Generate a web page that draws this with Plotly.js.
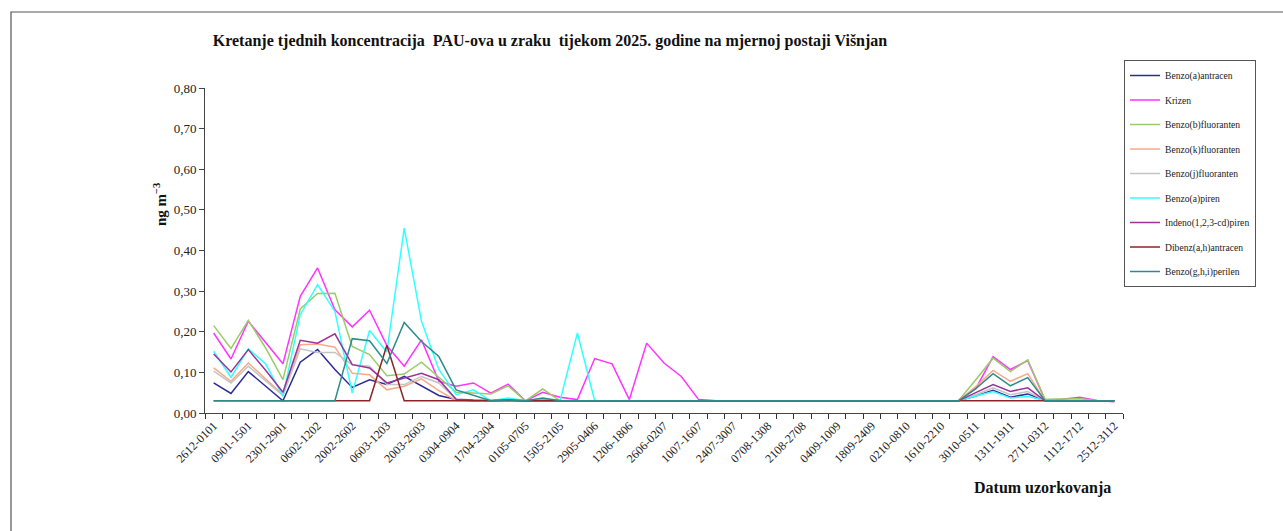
<!DOCTYPE html>
<html>
<head>
<meta charset="utf-8">
<script src="https://cdn.plot.ly/plotly-3.0.1.min.js"></script>
<style>
html,body{margin:0;padding:0;background:#fff;}
#chart{width:1283px;height:531px;}
</style>
</head>
<body>
<div id="chart"></div>
<script>
const weeks = ["2612-0101","0201-0801","0901-1501","1601-2201","2301-2901","3001-0502","0602-1202","1302-1902","2002-2602","2702-0503",
"0603-1203","1303-1903","2003-2603","2703-0204","0304-0904","1004-1604","1704-2304","2404-3004","0105-0705","0805-1405",
"1505-2105","2205-2805","2905-0406","0506-1106","1206-1806","1906-2506","2606-0207","0307-0907","1007-1607","1707-2307",
"2407-3007","3107-0608","0708-1308","1408-2008","2108-2708","2808-0309","0409-1009","1109-1709","1809-2409","2509-0110",
"0210-0810","0910-1510","1610-2210","2310-2910","3010-0511","0611-1211","1311-1911","2011-2611","2711-0312","0412-1012",
"1112-1712","1812-2412","2512-3112"];

const seriesNames = ["Benzo(a)antracen","Krizen","Benzo(b)fluoranten","Benzo(k)fluoranten","Benzo(j)fluoranten","Benzo(a)piren","Indeno(1,2,3-cd)piren","Dibenz(a,h)antracen","Benzo(g,h,i)perilen"];

const benzoAAntracen = [0.074,0.048,0.102,0.066,0.030,0.125,0.156,0.107,0.063,0.082,
0.070,0.090,0.067,0.043,0.033,0.030,0.030,0.032,0.030,0.032,
0.030,0.030,0.030,0.030,0.030,0.030,0.030,0.030,0.030,0.030,
0.030,0.030,0.030,0.030,0.030,0.030,0.030,0.030,0.030,0.030,
0.030,0.030,0.030,0.030,0.042,0.056,0.039,0.047,0.030,0.030,
0.030,0.030,0.030];

const krizen = [0.197,0.133,0.226,0.173,0.121,0.287,0.357,0.254,0.212,0.253,
0.166,0.115,0.180,0.078,0.066,0.074,0.049,0.071,0.030,0.051,
0.039,0.033,0.134,0.121,0.033,0.172,0.123,0.090,0.033,0.030,
0.030,0.030,0.030,0.030,0.030,0.030,0.030,0.030,0.030,0.030,
0.030,0.030,0.030,0.030,0.060,0.139,0.107,0.129,0.032,0.034,
0.039,0.031,0.028];

const benzoBFluoranten = [0.215,0.159,0.228,0.160,0.082,0.256,0.294,0.295,0.164,0.144,
0.092,0.096,0.125,0.088,0.051,0.049,0.047,0.067,0.030,0.059,
0.030,0.030,0.030,0.030,0.030,0.030,0.030,0.030,0.030,0.030,
0.030,0.030,0.030,0.030,0.030,0.030,0.030,0.030,0.030,0.030,
0.030,0.030,0.030,0.030,0.082,0.135,0.102,0.131,0.034,0.035,
0.035,0.031,0.030];

const benzoKFluoranten = [0.111,0.078,0.123,0.085,0.045,0.168,0.170,0.162,0.098,0.094,
0.057,0.066,0.084,0.055,0.031,0.030,0.030,0.030,0.030,0.030,
0.030,0.030,0.030,0.030,0.030,0.030,0.030,0.030,0.030,0.030,
0.030,0.030,0.030,0.030,0.030,0.030,0.030,0.030,0.030,0.030,
0.030,0.030,0.030,0.030,0.065,0.105,0.078,0.097,0.030,0.030,
0.030,0.030,0.030];

const benzoJFluoranten = [0.103,0.074,0.115,0.078,0.043,0.158,0.149,0.149,0.119,0.115,
0.070,0.070,0.090,0.074,0.033,0.030,0.030,0.030,0.030,0.030,
0.030,0.030,0.030,0.030,0.030,0.030,0.030,0.030,0.030,0.030,
0.030,0.030,0.030,0.030,0.030,0.030,0.030,0.030,0.030,0.030,
0.030,0.030,0.030,0.030,0.045,0.062,0.045,0.053,0.030,0.030,
0.030,0.030,0.030];

const benzoAPiren = [0.152,0.088,0.158,0.121,0.041,0.242,0.316,0.250,0.049,0.203,
0.150,0.455,0.226,0.107,0.045,0.057,0.030,0.037,0.030,0.034,
0.030,0.197,0.030,0.030,0.030,0.030,0.030,0.030,0.030,0.030,
0.030,0.030,0.030,0.030,0.030,0.030,0.030,0.030,0.030,0.030,
0.030,0.030,0.030,0.030,0.042,0.053,0.037,0.041,0.030,0.030,
0.030,0.030,0.030];

const indenoPiren = [0.145,0.101,0.156,0.105,0.051,0.179,0.172,0.195,0.119,0.111,
0.074,0.086,0.098,0.082,0.034,0.032,0.031,0.032,0.030,0.031,
0.030,0.030,0.030,0.030,0.030,0.030,0.030,0.030,0.030,0.030,
0.030,0.030,0.030,0.030,0.030,0.030,0.030,0.030,0.030,0.030,
0.030,0.030,0.030,0.030,0.050,0.070,0.053,0.062,0.030,0.030,
0.030,0.030,0.030];

const dibenzAntracen = [0.030,0.030,0.030,0.030,0.030,0.030,0.030,0.030,0.030,0.030,
0.167,0.030,0.030,0.030,0.030,0.030,0.030,0.030,0.030,0.030,
0.030,0.030,0.030,0.030,0.030,0.030,0.030,0.030,0.030,0.030,
0.030,0.030,0.030,0.030,0.030,0.030,0.030,0.030,0.030,0.030,
0.030,0.030,0.030,0.030,0.030,0.030,0.030,0.030,0.030,0.030,
0.030,0.030,0.030];

const benzoGhiPerilen = [0.030,0.030,0.030,0.030,0.030,0.030,0.030,0.030,0.183,0.178,
0.122,0.223,0.176,0.139,0.057,0.043,0.030,0.032,0.030,0.037,
0.030,0.030,0.030,0.030,0.030,0.030,0.030,0.030,0.030,0.030,
0.030,0.030,0.030,0.030,0.030,0.030,0.030,0.030,0.030,0.030,
0.030,0.030,0.030,0.030,0.060,0.097,0.067,0.087,0.030,0.030,
0.030,0.030,0.030];

const seriesValues = [benzoAAntracen,krizen,benzoBFluoranten,benzoKFluoranten,benzoJFluoranten,benzoAPiren,indenoPiren,dibenzAntracen,benzoGhiPerilen];
const seriesColors = ["#2B2B96","#FF33FF","#99CC66","#F8A98A","#C4C4C4","#33FFFF","#993399","#8E2323","#2E8B8B"];

// every other week is labelled; ticks on every week boundary
const tickText = weeks.map((w,i)=> i%2===0 ? w : " ");

const serif = "Liberation Serif, Times New Roman, serif";

const traces = seriesNames.map((n,k)=>({
  type:"scatter", mode:"lines", name:n, x:weeks, y:seriesValues[k],
  line:{color:seriesColors[k], width:1.5},
  legendgroup:"g"+k
}));

const layout = {
  width:1283, height:531,
  margin:{l:205, r:160, t:88, b:118},
  paper_bgcolor:"#fff", plot_bgcolor:"#fff",
  separators:",.",
  showlegend:true,
  font:{family:serif, color:"#222"},
  title:{text:"<b>Kretanje tjednih koncentracija  PAU-ova u zraku  tijekom 2025. godine na mjernoj postaji Višnjan</b>",
    font:{family:serif, size:16, color:"#111"},
    xref:"container", yref:"container", x:550/1283, xanchor:"center", y:1-40/531, yanchor:"middle"},
  xaxis:{type:"category", range:[-0.5,weeks.length-0.5], tickmode:"array", tickvals:weeks, ticktext:tickText,
    tickson:"boundaries", ticks:"outside", ticklen:5, tickwidth:1, tickcolor:"#333", tickangle:-45,
    tickfont:{family:serif, size:12, color:"#222"}, showline:true, linecolor:"#444", linewidth:1,
    showgrid:false, zeroline:false, automargin:false},
  yaxis:{range:[0,0.8], tickmode:"linear", tick0:0, dtick:0.1, tickformat:".2f",
    ticks:"outside", ticklen:5, tickcolor:"#444", tickfont:{family:serif, size:13, color:"#222"},
    showline:true, linecolor:"#444", linewidth:1, showgrid:false, zeroline:false, automargin:false},
  legend:{x:(1124-205)/918, xanchor:"left", y:(413-60)/325, yanchor:"top",
    bordercolor:"#555", borderwidth:1, bgcolor:"#fff",
    font:{family:serif, size:9.6, color:"#222"}, traceorder:"grouped", tracegroupgap:5.5, itemwidth:30},
  annotations:[
    {text:"<b>ng m<sup>−3</sup></b>", xref:"paper", yref:"paper", x:(160-205)/918, y:(413-205)/325,
     xanchor:"center", yanchor:"middle", textangle:-90, showarrow:false, font:{family:serif, size:15, color:"#111"}},
    {text:"<b>Datum uzorkovanja</b>", xref:"paper", yref:"paper", x:(1113-205)/918, y:(413-488)/325,
     xanchor:"right", yanchor:"middle", showarrow:false, font:{family:serif, size:16, color:"#111"}}
  ],
  shapes:[
    {type:"rect", xref:"paper", yref:"paper", x0:(11-205)/918, x1:(1300-205)/918, y0:(413-560)/325, y1:(413-12)/325,
     line:{color:"#555", width:1.2}, fillcolor:"rgba(0,0,0,0)", layer:"below"}
  ]
};

Plotly.newPlot("chart", traces, layout, {displayModeBar:false, staticPlot:true});
</script>
</body>
</html>
